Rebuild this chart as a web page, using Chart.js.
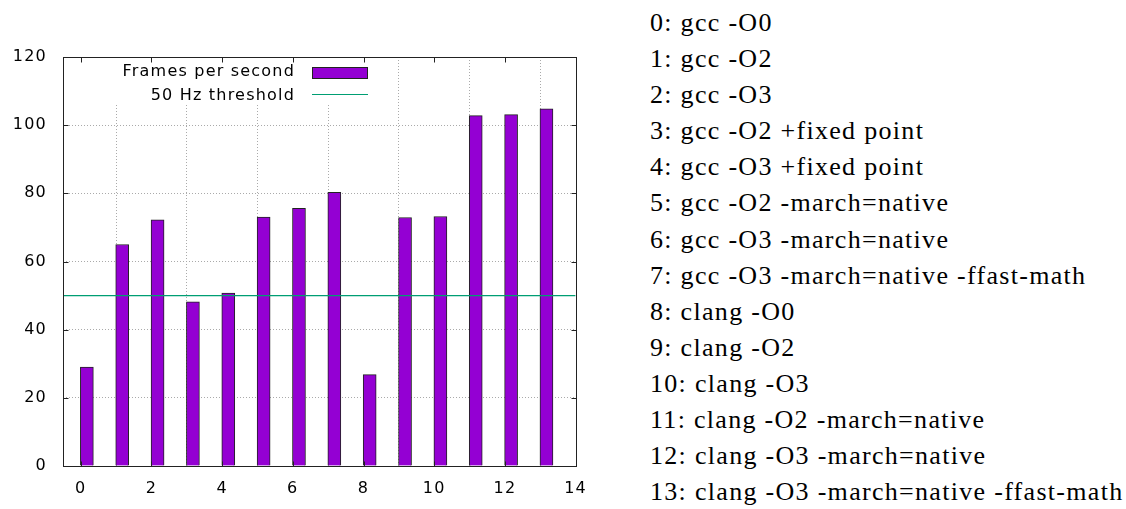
<!DOCTYPE html>
<html lang="en">
<head>
    <meta charset="UTF-8">
    <title>Frames per second by compiler flags</title>
    <script src="https://cdn.jsdelivr.net/npm/chart.js"></script>
    <style>
        body, html {
            margin: 0;
            background: #fff;
            width: 1126px;
            height: 509px;
            overflow: hidden;
        }
        .chart-container {
            position: absolute;
            left: 0;
            top: 0;
            width: 600px;
            height: 509px;
        }
        #configList {
            position: absolute;
            left: 650px;
            top: 5px;
            font-family: "Liberation Serif", "Times New Roman", serif;
            font-size: 26px;
            line-height: 36.1px;
            letter-spacing: 1.3px;
            color: #000;
            white-space: nowrap;
        }
    </style>
</head>
<body>
    <div class="chart-container">
        <canvas id="fpsChart"></canvas>
    </div>
    <div id="configList"></div>
    <script>
        // 各ビルド設定
        const configs = [
            'gcc -O0',
            'gcc -O2',
            'gcc -O3',
            'gcc -O2 +fixed point',
            'gcc -O3 +fixed point',
            'gcc -O2 -march=native',
            'gcc -O3 -march=native',
            'gcc -O3 -march=native -ffast-math',
            'clang -O0',
            'clang -O2',
            'clang -O3',
            'clang -O2 -march=native',
            'clang -O3 -march=native',
            'clang -O3 -march=native -ffast-math'
        ];
        const fps = [29.0, 65.0, 72.2, 48.2, 50.7, 73.0, 75.6, 80.3, 26.8, 72.9, 73.2, 102.8, 103.1, 104.8];
        const threshold = 50;
        const seriesLabels = ['Frames per second', '50 Hz threshold'];
        const xMin = -0.5, xMax = 14;
        const yMin = 0, yMax = 120;

        const barColor = '#9400d3';
        const lineColor = '#009e73';
        const font = { family: 'DejaVu Sans', size: 16 };
        const spacing = '1.2px';

        // 右側の説明リスト
        document.getElementById('configList').innerHTML =
            configs.map((c, i) => '<div>' + i + ': ' + c + '</div>').join('');

        // 文字間隔（canvasはリサイズで状態が消えるので毎回設定）
        const letterSpacing = {
            id: 'letterSpacing',
            beforeLayout(chart) { chart.ctx.letterSpacing = spacing; },
            beforeDraw(chart) { chart.ctx.letterSpacing = spacing; }
        };

        // gnuplot風の枠・内向き目盛り・凡例
        const gnuplotFrame = {
            id: 'gnuplotFrame',
            beforeDatasetsDraw(chart) {
                const ctx = chart.ctx;
                const a = chart.chartArea;
                // 凡例の背景（グリッドを隠す）
                ctx.save();
                ctx.fillStyle = '#fff';
                ctx.fillRect(a.left + 1, a.top + 1, 308, 47);
                ctx.restore();
            },
            afterDatasetsDraw(chart) {
                const ctx = chart.ctx;
                const a = chart.chartArea;
                const xs = chart.scales.x, ys = chart.scales.y;
                const L = Math.round(a.left) + 0.5, R = Math.round(a.right) + 0.5;
                const T = Math.round(a.top) + 0.5, B = Math.round(a.bottom) + 0.5;
                ctx.save();
                ctx.strokeStyle = '#222';
                ctx.lineWidth = 1;
                ctx.beginPath();
                xs.ticks.forEach(t => {
                    const px = Math.round(xs.getPixelForValue(t.value)) + 0.5;
                    ctx.moveTo(px, B); ctx.lineTo(px, B - 5);
                    ctx.moveTo(px, T); ctx.lineTo(px, T + 5);
                });
                ys.ticks.forEach(t => {
                    const py = Math.round(ys.getPixelForValue(t.value)) + 0.5;
                    ctx.moveTo(L, py); ctx.lineTo(L + 5, py);
                    ctx.moveTo(R, py); ctx.lineTo(R - 5, py);
                });
                ctx.stroke();
                ctx.strokeRect(L, T, R - L, B - T);

                // 凡例
                const textRight = a.left + 232;
                const sx0 = a.left + 249, sx1 = a.left + 304;
                ctx.font = font.size + 'px ' + font.family;
                ctx.letterSpacing = spacing;
                ctx.fillStyle = '#000';
                ctx.textAlign = 'right';
                ctx.textBaseline = 'alphabetic';
                const ds = chart.data.datasets;
                ctx.fillText(ds[0].label, textRight, a.top + 19);
                ctx.fillText(ds[1].label, textRight, a.top + 42.5);
                ctx.fillStyle = ds[0].backgroundColor;
                ctx.fillRect(sx0, a.top + 10, sx1 - sx0, 11);
                ctx.strokeStyle = ds[0].borderColor;
                ctx.strokeRect(sx0 + 0.5, a.top + 10.5, sx1 - sx0, 11);
                ctx.strokeStyle = ds[1].borderColor;
                ctx.beginPath();
                ctx.moveTo(sx0, a.top + 37.5);
                ctx.lineTo(sx1 + 1, a.top + 37.5);
                ctx.stroke();
                ctx.restore();
            }
        };

        const ctx = document.getElementById('fpsChart').getContext('2d');
        new Chart(ctx, {
            type: 'bar',
            data: {
                datasets: [{
                    type: 'bar',
                    label: seriesLabels[0],
                    // 棒は整数位置の右側に並べる（gnuplotの配置）
                    data: fps.map((v, i) => ({ x: i + 0.175, y: v })),
                    backgroundColor: barColor,
                    borderColor: '#222',
                    borderWidth: 1,
                    borderSkipped: 'bottom',
                    barThickness: 13,
                    order: 2
                }, {
                    type: 'line',
                    label: seriesLabels[1],
                    data: [{ x: xMin, y: threshold }, { x: xMax, y: threshold }],
                    borderColor: lineColor,
                    borderWidth: 1.2,
                    pointRadius: 0,
                    order: 1
                }]
            },
            options: {
                responsive: true,
                maintainAspectRatio: false,
                animation: false,
                layout: { padding: { top: 57, right: 17, left: 0, bottom: 0 } },
                plugins: {
                    legend: { display: false },
                    tooltip: { enabled: false }
                },
                scales: {
                    x: {
                        type: 'linear',
                        min: xMin,
                        max: xMax,
                        offset: false,
                        grid: { color: '#aaa', lineWidth: 1, drawTicks: false },
                        border: { display: false, dash: [1, 2] },
                        ticks: {
                            stepSize: 2,
                            includeBounds: false,
                            color: '#000',
                            font: font,
                            padding: 13,
                            maxRotation: 0
                        },
                        afterFit(scale) { scale.height = 43; }
                    },
                    y: {
                        min: yMin,
                        max: yMax,
                        grid: { color: '#aaa', lineWidth: 1, drawTicks: false },
                        border: { display: false, dash: [1, 2] },
                        ticks: {
                            stepSize: 20,
                            color: '#000',
                            font: font,
                            padding: 16
                        },
                        afterFit(scale) { scale.width = 63; }
                    }
                }
            },
            plugins: [letterSpacing, gnuplotFrame]
        });
    </script>
</body>
</html>
